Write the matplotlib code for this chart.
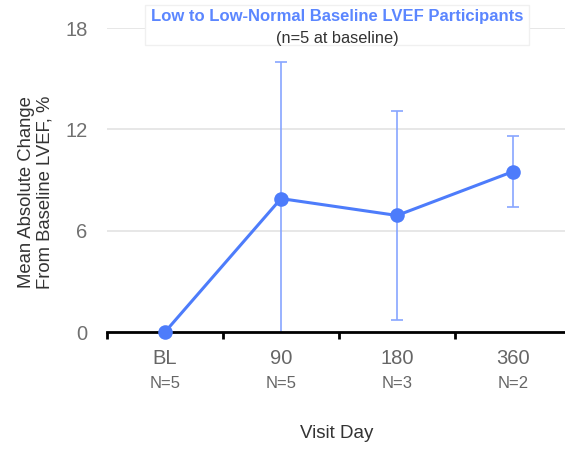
import numpy as np
import matplotlib
matplotlib.use('Agg')
import matplotlib.pyplot as plt
from matplotlib.patches import Rectangle

plt.rcParams['font.family'] = ['Liberation Sans', 'DejaVu Sans']

# data
visits = ['BL', '90', '180', '360']
counts = ['N=5', 'N=5', 'N=3', 'N=2']
mean_change = [0.0, 7.9, 6.9, 9.5]
err = [0.0, 8.1, 6.2, 2.1]

blue = '#4d7cfb'
errblue = '#88a6ff'

fig = plt.figure(figsize=(5.65, 4.5), dpi=100)
# axes runs slightly past the right edge, like the cropped original
ax = fig.add_axes([107/565, 1 - 332/450, (571 - 107)/565, (332 - 28)/450])

x = np.arange(len(visits))
ax.errorbar(x[1:], mean_change[1:], yerr=err[1:], fmt='none', ecolor=errblue,
            elinewidth=1.2, capsize=4, capthick=1.2, zorder=2)
ax.plot(x, mean_change, color=blue, linewidth=2.2, marker='o', markersize=10.5,
        markeredgewidth=0, zorder=3, clip_on=False)

ax.set_xlim(-0.5, 3.5)
ax.set_ylim(0, 18)
ax.set_yticks([0, 6, 12, 18])
ax.yaxis.grid(True, color='#e3e3e3', linewidth=1.2)
ax.set_axisbelow(True)
ax.tick_params(axis='y', length=0, labelsize=14.5, labelcolor='#707070', pad=14)

# category boundaries get the tick marks
ax.set_xticks(np.arange(-0.5, 4.0, 1.0))
ax.set_xticklabels([])
ax.tick_params(axis='x', direction='out', length=5, width=2, color='black')
for i in range(len(visits)):
    ax.text(x[i], -0.088, visits[i], transform=ax.get_xaxis_transform(),
            ha='center', va='center', fontsize=14.5, color='#666666')
    ax.text(x[i], -0.168, counts[i], transform=ax.get_xaxis_transform(),
            ha='center', va='center', fontsize=12, color='#666666')

for s in ['top', 'right', 'left']:
    ax.spines[s].set_visible(False)
ax.spines['bottom'].set_linewidth(2)
ax.spines['bottom'].set_color('black')

fig.text(36/565, 1 - 192/450, 'Mean Absolute Change\nFrom Baseline LVEF, %',
         rotation=90, ha='center', va='center', fontsize=13.3, color='#333333',
         linespacing=1.1)
fig.text(337/565, 1 - 433/450, 'Visit Day', ha='center', va='center',
         fontsize=13.5, color='#333333')

# title box covering the top gridline
fig.patches.append(Rectangle((145/565, 1 - 45/450), (529 - 145)/565, 40/450,
                             transform=fig.transFigure, facecolor='white',
                             edgecolor='#f0f0f0', linewidth=1, zorder=5))
fig.text(337/565, 1 - 17/450, 'Low to Low-Normal Baseline LVEF Participants',
         ha='center', va='center', fontsize=12, fontweight='bold',
         color='#5b86ff', zorder=6)
fig.text(337/565, 1 - 38/450, '(n=5 at baseline)', ha='center', va='center',
         fontsize=11.8, color='#333333', zorder=6)

fig.savefig('out.png', dpi=100)
